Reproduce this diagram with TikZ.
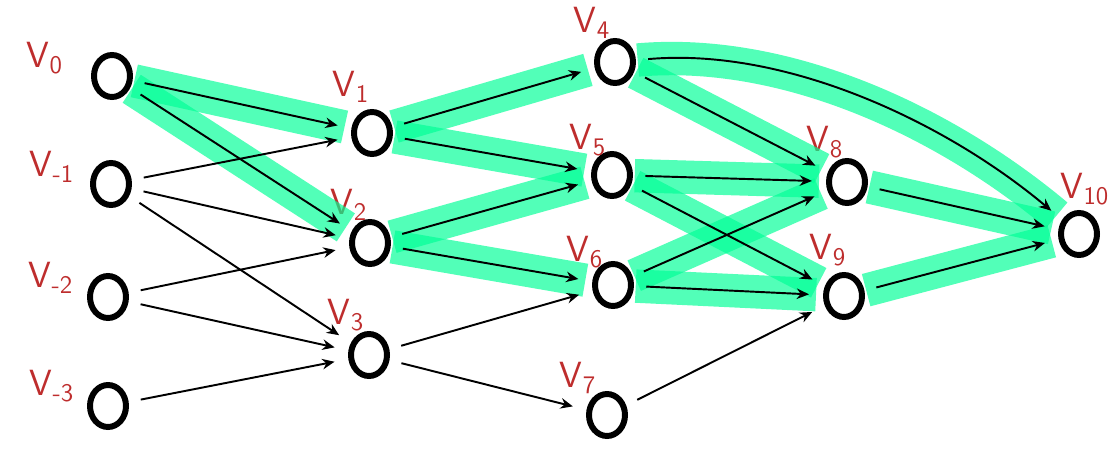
\documentclass[tikz,border=0pt]{standalone}
\usetikzlibrary{arrows.meta,shapes.geometric}

\definecolor{vred}{RGB}{190,45,45}
\definecolor{hlgreen}{RGB}{0,255,150}

\begin{document}
\begin{tikzpicture}
  [x=0.02cm,y=-0.02cm,
   vtx/.style={ellipse,draw,line width=3.4pt,minimum width=0.72cm,minimum height=0.84cm,inner sep=0pt},
   lbl/.style={text=vred,font=\huge\sffamily},
   hl/.style={draw=hlgreen,line width=19pt,opacity=.68,shorten <=1pt,shorten >=4pt},
   edge/.style={-{Stealth[length=7pt,width=6pt]},line width=1.1pt,shorten <=7pt,shorten >=8pt}]
  \useasboundingbox (0,0) rectangle (1111,459);
  % vertices
  \node[vtx] (v0) at (112,76) {};
  \node[vtx] (vm1) at (111,184) {};
  \node[vtx] (vm2) at (108,297) {};
  \node[vtx] (vm3) at (108,406) {};
  \node[vtx] (v1) at (372,133) {};
  \node[vtx] (v2) at (370,243) {};
  \node[vtx] (v3) at (369,355) {};
  \node[vtx] (v4) at (615,62) {};
  \node[vtx] (v5) at (612,175) {};
  \node[vtx] (v6) at (613,285) {};
  \node[vtx] (v7) at (607,415) {};
  \node[vtx] (v8) at (847,182) {};
  \node[vtx] (v9) at (844,296) {};
  \node[vtx] (v10) at (1079,234) {};
  % labels
  \node[lbl] (l0) at (45,58) {V\textsubscript{0}};
  \node[lbl] (lm1) at (52,167) {V\textsubscript{-1}};
  \node[lbl] (lm2) at (51,278) {V\textsubscript{-2}};
  \node[lbl] (lm3) at (52,386) {V\textsubscript{-3}};
  \node[lbl] (l1) at (351,87) {V\textsubscript{1}};
  \node[lbl] (l2) at (349,205) {V\textsubscript{2}};
  \node[lbl] (l3) at (346,315) {V\textsubscript{3}};
  \node[lbl] (l4) at (592,23) {V\textsubscript{4}};
  \node[lbl] (l5) at (588,140) {V\textsubscript{5}};
  \node[lbl] (l6) at (585,252) {V\textsubscript{6}};
  \node[lbl] (l7) at (578,378) {V\textsubscript{7}};
  \node[lbl] (l8) at (825,142) {V\textsubscript{8}};
  \node[lbl] (l9) at (828,250) {V\textsubscript{9}};
  \node[lbl] (l10) at (1085,189) {V\textsubscript{10}};
  % highlighted path
  \foreach \from/\to in {v0/v1,v0/v2,v1/v4,v1/v5,v2/v5,v2/v6,v4/v8,v5/v8,v5/v9,v6/v8,v6/v9,v8/v10,v9/v10}
    \draw[hl] (\from) -- (\to);
  \draw[hl] (v4) to[out=5,in=140,looseness=.85] (v10);
  % edges
  \foreach \from/\to in {v0/v1,v0/v2,vm1/v1,vm1/v2,vm1/v3,vm2/v2,vm2/v3,vm3/v3,
      v1/v4,v1/v5,v2/v5,v2/v6,v3/v6,v3/v7,v4/v8,v5/v8,v5/v9,v6/v8,v6/v9,v7/v9,v8/v10,v9/v10}
    \draw[edge] (\from) -- (\to);
  \draw[edge] (v4) to[out=5,in=140,looseness=.85] (v10);
\end{tikzpicture}
\end{document}
